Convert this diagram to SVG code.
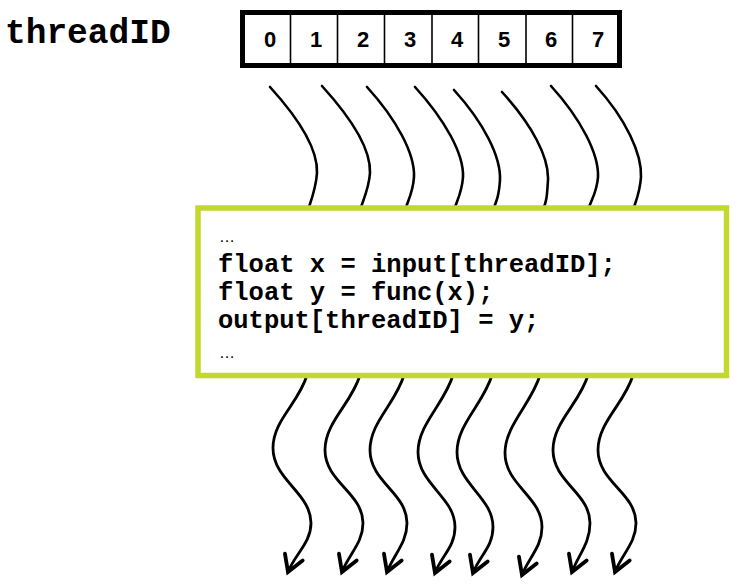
<svg xmlns="http://www.w3.org/2000/svg" width="737" height="586" viewBox="0 0 737 586">
<style>
.wire{fill:none;stroke:#000;stroke-width:2.6;stroke-linecap:round}
.down{fill:none;stroke:#000;stroke-width:2.8;stroke-linecap:round;marker-end:url(#arr)}
.digit{font-family:"Liberation Sans",Arial,sans-serif;font-weight:bold;font-size:22px;text-anchor:middle}
.code{font-family:"Liberation Mono","Courier New",monospace;font-weight:bold;font-size:25.5px}
.dots{font-family:"Liberation Sans",Arial,sans-serif;font-size:16px}
</style>
<defs>
<marker id="arr" markerUnits="userSpaceOnUse" viewBox="-20 -14 24 28" markerWidth="24" markerHeight="28" refX="0" refY="0" orient="auto" overflow="visible">
<path d="M-16,-9.5 L0,0 L-16,9.5" fill="none" stroke="#000" stroke-width="3.8" stroke-linecap="round" stroke-linejoin="miter"/>
</marker>
</defs>
<rect width="737" height="586" fill="#fff"/>
<g id="label">
<text x="5" y="43" style="font-family:'Liberation Mono','Courier New',monospace;font-weight:bold;font-size:34.5px">threadID</text>
</g>
<g id="array">
<rect x="242.5" y="12.5" width="377" height="53" fill="#fff" stroke="#000" stroke-width="5"/>
<g stroke="#000" stroke-width="1.6">
<line x1="290.5" y1="14" x2="290.5" y2="64"/>
<line x1="337.5" y1="14" x2="337.5" y2="64"/>
<line x1="384.5" y1="14" x2="384.5" y2="64"/>
<line x1="432" y1="14" x2="432" y2="64"/>
<line x1="478.5" y1="14" x2="478.5" y2="64"/>
<line x1="526" y1="14" x2="526" y2="64"/>
<line x1="572.5" y1="14" x2="572.5" y2="64"/>
</g>
<text class="digit" x="270" y="47">0</text>
<text class="digit" x="316" y="47">1</text>
<text class="digit" x="363" y="47">2</text>
<text class="digit" x="410" y="47">3</text>
<text class="digit" x="457" y="47">4</text>
<text class="digit" x="504" y="47">5</text>
<text class="digit" x="551" y="47">6</text>
<text class="digit" x="598" y="47">7</text>
</g>
<g id="connectors">
<path class="wire" d="M270,87 C300,120 318,150 317,173 C316,188 312,198 308,210"/>
<path class="wire" d="M322,86 C352,119 371,150 370,173 C369,188 364,198 360,210"/>
<path class="wire" d="M367,87 C397,120 415,154 414,177 C413,192 409,198 405,210"/>
<path class="wire" d="M415,87 C445,120 464,154 463,177 C462,192 458,198 454,210"/>
<path class="wire" d="M454,90 C484,123 501,157 500,180 C499,195 497,200 493,210"/>
<path class="wire" d="M502,92 C532,125 549,157 548,180 C547,195 547,200 543,210"/>
<path class="wire" d="M551,86 C581,119 599,154 598,177 C597,192 592,198 588,210"/>
<path class="wire" d="M596,86 C626,119 642,154 641,177 C640,192 637,198 633,210"/>

<path class="down" d="M307,375 C299,403 273,420 273,448 C273,480 311,493 311,523 C311,543 295,554 288,572"/>
<path class="down" d="M360,375 C352,403 325,422 325,450 C325,482 363,493 363,523 C363,543 349,554 342,572"/>
<path class="down" d="M404,375 C396,403 370,422 370,450 C370,482 407,493 407,523 C407,543 394,554 387,572"/>
<path class="down" d="M453,375 C445,403 418,424 418,452 C418,484 455,497 455,527 C455,547 442,555 435,573"/>
<path class="down" d="M492,375 C484,403 457,424 457,452 C457,484 493,497 493,527 C493,547 480,555 473,573"/>
<path class="down" d="M540,375 C532,403 505,425 505,453 C505,485 542,497 542,527 C542,547 529,557 522,575"/>
<path class="down" d="M588,375 C580,403 553,422 553,450 C553,482 590,493 590,523 C590,543 579,554 572,572"/>
<path class="down" d="M633,375 C625,403 598,422 598,450 C598,482 636,493 636,523 C636,543 622,554 615,572"/>
</g>
<g id="code">
<rect x="198" y="208" width="528.5" height="167.5" fill="#fff" stroke="#c3d82e" stroke-width="5.5"/>
<text class="dots" x="219" y="242">…</text>
<text class="code" x="218" y="272">float x = input[threadID];</text>
<text class="code" x="218" y="300">float y = func(x);</text>
<text class="code" x="218" y="328">output[threadID] = y;</text>
<text class="dots" x="219" y="358">…</text>
</g>
</svg>
